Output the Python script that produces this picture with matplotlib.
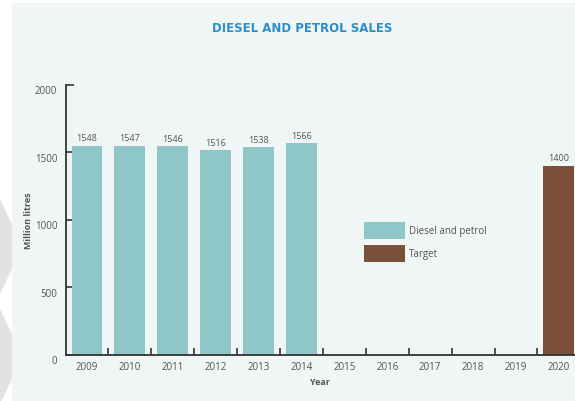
import matplotlib
matplotlib.use("Agg")
import matplotlib.pyplot as plt
import matplotlib.transforms as mtransforms
from matplotlib.patches import Rectangle, Polygon

years = ["2009", "2010", "2011", "2012", "2013", "2014", "2015", "2016", "2017", "2018", "2019", "2020"]
sales = [1548, 1547, 1546, 1516, 1538, 1566, None, None, None, None, None, None]
target = [None] * 11 + [1400]
yticks = [0, 500, 1000, 1500, 2000]

W, H = 575, 402
fig = plt.figure(figsize=(W / 100, H / 100), dpi=100)
fig.patch.set_facecolor("white")

# background panel and decorative chevrons
fig.patches.append(Rectangle((12 / W, 0), 1 - 12 / W, 1 - 4 / H, transform=fig.transFigure,
                             facecolor="#f0f5f5", edgecolor="none", zorder=-10))
for y0 in (200, 310):
    pts = [(0, y0), (12, y0 + 25), (12, y0 + 70), (0, y0 + 95)]
    fig.patches.append(Polygon([(x / W, 1 - y / H) for x, y in pts], closed=True,
                               transform=fig.transFigure, facecolor="#e2e2e2",
                               edgecolor="none", zorder=-10))

left, right = 65.5 / W, 1.0
bottom, top = 1 - 356 / H, 1 - 85.5 / H
ax = fig.add_axes([left, bottom, right - left, top - bottom])
ax.set_facecolor("none")
ax.set_zorder(5)

teal = "#8fc7c9"
brown = "#7a5039"
x = list(range(len(years)))
bw = 0.72
xs = [i for i, v in zip(x, sales) if v is not None]
vs = [v for v in sales if v is not None]
xt = [i for i, v in zip(x, target) if v is not None]
vt = [v for v in target if v is not None]
ax.bar(xs, vs, width=bw, color=teal, label="Diesel and petrol", zorder=2)
ax.bar(xt, vt, width=bw, color=brown, label="Target", zorder=2)

for i, v in zip(xs + xt, vs + vt):
    ax.text(i, v + 25, str(v), ha="center", va="bottom", fontsize=6.5,
            color="#555555", family="Open Sans")

ax.set_xlim(-0.5, -0.5 + (W - 65.5) / 42.9)
ax.set_ylim(0, 2000)

for s in ("top", "right"):
    ax.spines[s].set_visible(False)
for s in ("left", "bottom"):
    ax.spines[s].set_color("#333333")
    ax.spines[s].set_linewidth(1.3)

ax.set_yticks(yticks)
ax.set_yticklabels([str(t) for t in yticks])
ax.tick_params(axis="y", direction="in", length=6, width=1.2, color="#333333",
               labelsize=7, labelcolor="#555555", pad=6)
ax.set_xticks([i + 0.5 for i in x[:-1]], minor=False)
ax.set_xticklabels([])
ax.set_xticks(x, minor=True)
ax.set_xticklabels(years, minor=True)
ax.tick_params(axis="x", which="major", direction="in", length=5, width=1.2, color="#333333")
ax.tick_params(axis="x", which="minor", length=0, labelsize=7, labelcolor="#555555", pad=4)
for lab in ax.get_xticklabels(minor=True) + ax.get_yticklabels():
    lab.set_family("Open Sans")

off = mtransforms.ScaledTranslation(0, -4.5 / 100, fig.dpi_scale_trans)
for lab in ax.get_yticklabels():
    lab.set_transform(lab.get_transform() + off)

ax.set_xlabel("Year", fontsize=6.5, color="#555555", fontweight="bold", family="Open Sans", labelpad=4)
ax.set_ylabel("Million litres", fontsize=6.5, color="#555555", fontweight="bold", family="Open Sans")
ax.yaxis.set_label_coords((33 - 65.5) / (W - 65.5), 0.5)

leg = ax.legend(loc="upper left", bbox_to_anchor=((360 - 65.5) / (W - 65.5), (356 - 219) / 270.5),
                frameon=False, fontsize=7, handlelength=4.2, handleheight=2.3,
                handletextpad=0.4, labelspacing=0.6, borderaxespad=0)
for t in leg.get_texts():
    t.set_color("#555555")
    t.set_family("Open Sans")

fig.text(302 / W, 1 - 28 / H, "DIESEL AND PETROL SALES", ha="center", va="center",
         fontsize=8.5, fontweight="bold", color="#2b8fc7", family="DejaVu Sans")

fig.savefig("out.png", dpi=100, facecolor=fig.get_facecolor())
